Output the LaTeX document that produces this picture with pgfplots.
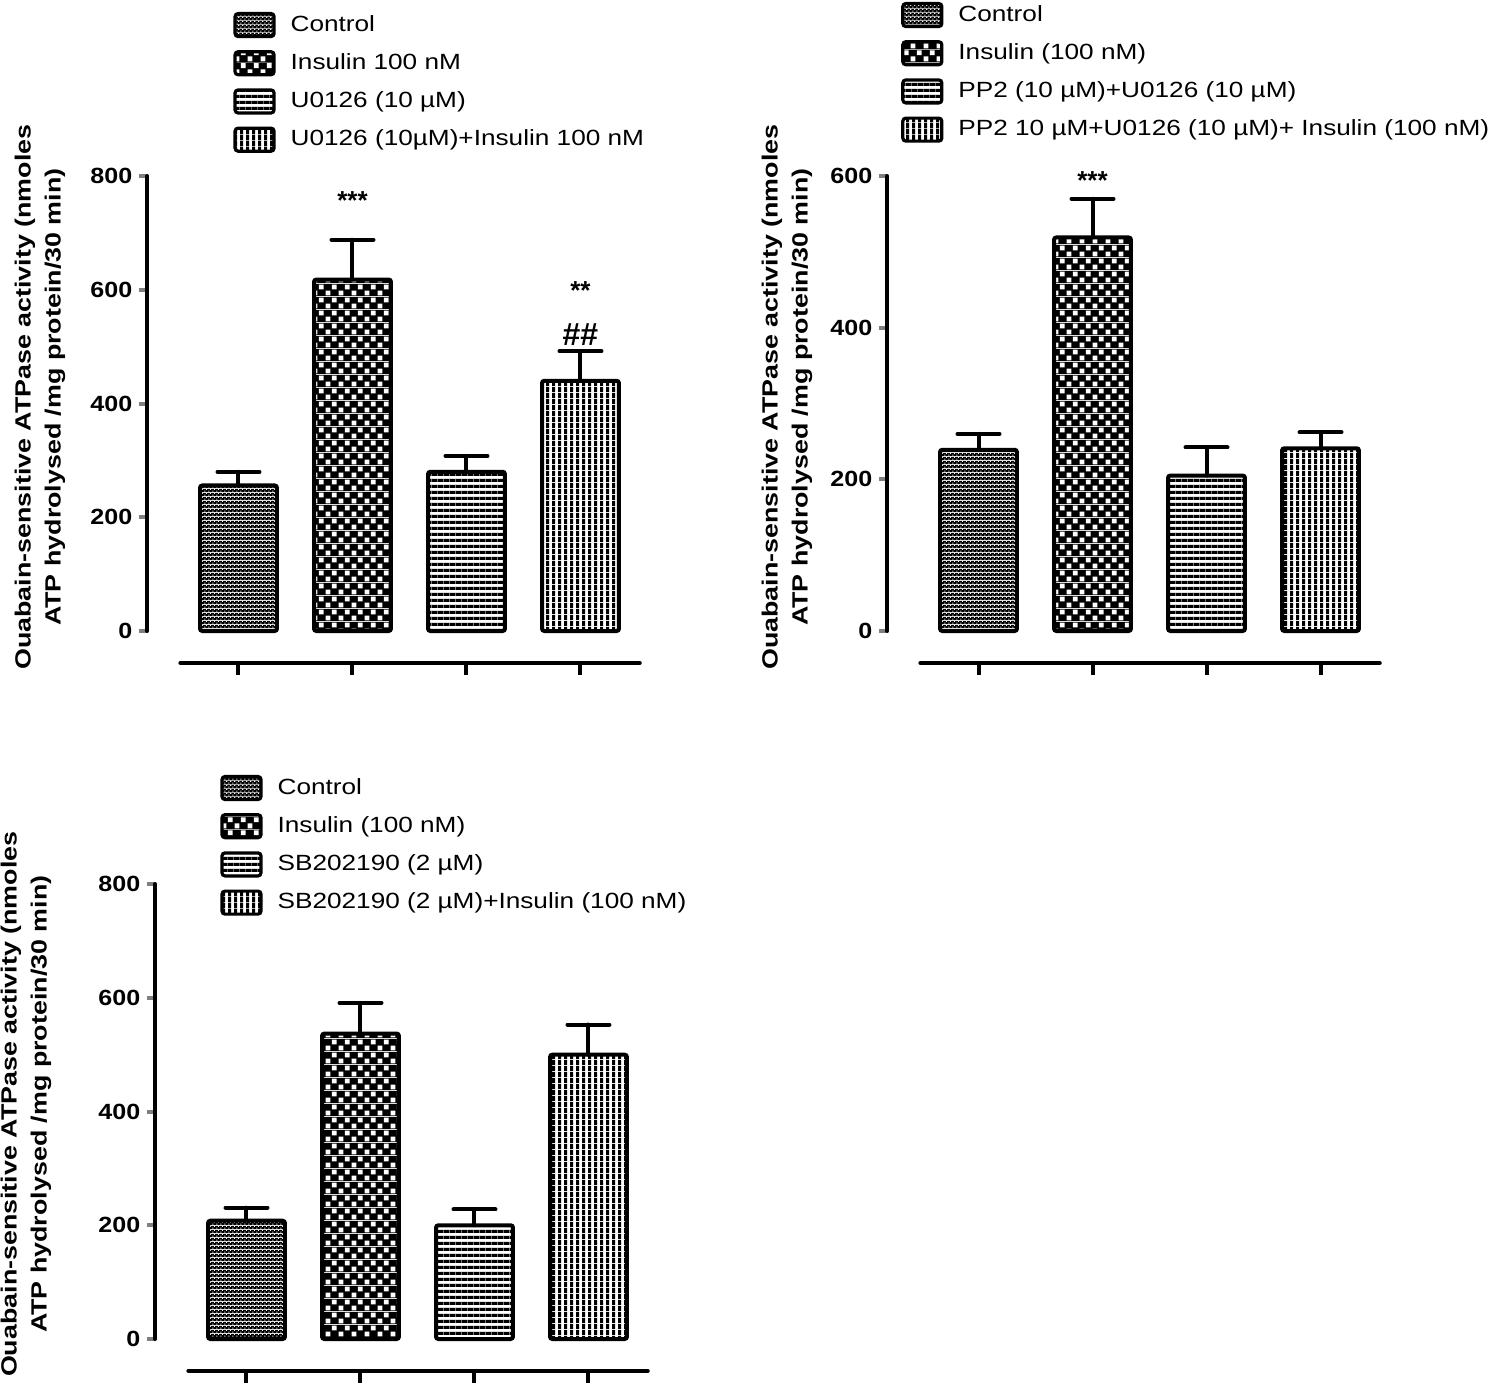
\documentclass[border=0pt]{standalone}
\usepackage{fontspec}
\setmainfont{Liberation Sans}
\newfontfamily\legfont[FakeStretch=1.19]{Liberation Sans}
\newfontfamily\labfont[FakeStretch=1.22]{Liberation Sans}
\newfontfamily\tickfont[FakeStretch=1.14]{Liberation Sans}
\usepackage{pgfplots}
\pgfplotsset{compat=1.18}
\usetikzlibrary{patterns}

% fine dotted grey (Control)
\pgfdeclarepatterninherentlycolored{ctrlpat}{\pgfpointorigin}{\pgfqpoint{2pt}{2pt}}{\pgfqpoint{2pt}{2pt}}{%
  \pgfsetfillcolor{black}\pgfpathrectangle{\pgfpointorigin}{\pgfqpoint{2pt}{2pt}}\pgfusepath{fill}%
  \pgfsetfillcolor{white}%
  \pgfpathrectangle{\pgfqpoint{0.25pt}{0.25pt}}{\pgfqpoint{0.6pt}{0.6pt}}%
  \pgfpathrectangle{\pgfqpoint{1.25pt}{1.25pt}}{\pgfqpoint{0.6pt}{0.6pt}}%
  \pgfusepath{fill}}
% coarse checkerboard (Insulin)
\pgfdeclarepatterninherentlycolored{inspat}{\pgfpointorigin}{\pgfqpoint{6.5pt}{6.5pt}}{\pgfqpoint{6.5pt}{6.5pt}}{%
  \pgfsetfillcolor{black}\pgfpathrectangle{\pgfpointorigin}{\pgfqpoint{6.5pt}{6.5pt}}\pgfusepath{fill}%
  \pgfsetfillcolor{white}%
  \pgfpathrectangle{\pgfqpoint{0.35pt}{0.35pt}}{\pgfqpoint{2.55pt}{2.55pt}}%
  \pgfpathrectangle{\pgfqpoint{3.6pt}{3.6pt}}{\pgfqpoint{2.55pt}{2.55pt}}%
  \pgfusepath{fill}}
% horizontal stripes
\pgfdeclarepatterninherentlycolored{hpat}{\pgfpointorigin}{\pgfqpoint{3pt}{3pt}}{\pgfqpoint{3pt}{3pt}}{%
  \pgfsetfillcolor{white}\pgfpathrectangle{\pgfpointorigin}{\pgfqpoint{3pt}{3pt}}\pgfusepath{fill}%
  \pgfsetfillcolor{black}\pgfpathrectangle{\pgfpointorigin}{\pgfqpoint{3pt}{1.8pt}}\pgfusepath{fill}}
% vertical stripes
\pgfdeclarepatterninherentlycolored{vpat}{\pgfpointorigin}{\pgfqpoint{3pt}{3pt}}{\pgfqpoint{3pt}{3pt}}{%
  \pgfsetfillcolor{white}\pgfpathrectangle{\pgfpointorigin}{\pgfqpoint{3pt}{3pt}}\pgfusepath{fill}%
  \pgfsetfillcolor{black}\pgfpathrectangle{\pgfpointorigin}{\pgfqpoint{1.8pt}{3pt}}\pgfusepath{fill}}

\pgfplotsset{
  panel/.style={
    scale only axis, width=250.8pt, height=227.5pt,
    xmin=-0.8, xmax=3.6, ymin=0,
    axis x line=none, axis y line*=left,
    y axis line style={line width=2pt, line cap=round},
    ytick style={line width=2pt},
    tick align=outside, major tick length=4pt,
    /pgf/number format/assume math mode=true,
    yticklabel style={font=\tickfont\bfseries\fontsize{11}{11}\selectfont},
    ybar, bar width=0.675, bar shift=0pt,
    clip=false,
    every axis plot/.append style={draw=black, line width=2pt, rounded corners=1.2pt},
    error bars/y dir=plus, error bars/y explicit,
    error bars/error mark=|,
    error bars/error bar style={line width=2pt, line cap=round, rounded corners=0pt},
    error bars/error mark options={line width=2pt, mark size=10.5pt, line cap=round},
    ylabel={Ouabain-sensitive ATPase activity (nmoles\\ATP hydrolysed /mg protein/30 min)},
    ylabel style={align=center, font=\labfont\bfseries\fontsize{11}{15}\selectfont, anchor=center},
    legend image code/.code={\draw[#1, line width=1.6pt, rounded corners=1.5pt] (0pt,-5.75pt) rectangle (19.5pt,5.75pt);},
    legend cell align=left,
    legend style={draw=none, fill=none, inner sep=0pt, anchor=north west,
      font=\legfont\fontsize{11}{13}\selectfont,
      nodes={inner sep=0pt, text height=8.5pt, text depth=2.5pt},
      column sep=7.5pt, row sep=6pt},
  }
}

\begin{document}
\begin{tikzpicture}
\useasboundingbox (0,0) rectangle (750pt,-694pt);

% ---------- Panel 1 ----------
\begin{axis}[panel, at={(73.65pt,-315.5pt)}, anchor=south west,
  ymax=800, ytick={0,200,400,600,800},
  ylabel style={at={(axis description cs:-0.214,0.514)}},
  legend style={at={(axis description cs:0.171,1.3615)}}]
\addplot[pattern=ctrlpat] coordinates {(0,256) +- (0,24)};
\addplot[pattern=inspat] coordinates {(1,618) +- (0,70)};
\addplot[pattern=hpat] coordinates {(2,280) +- (0,28)};
\addplot[pattern=vpat] coordinates {(3,440) +- (0,52)};
\legend{Control, Insulin 100 nM, U0126 (10 µM), U0126 (10µM)+Insulin 100 nM}
\node[font=\bfseries\fontsize{13}{13}\selectfont] at (axis cs:1,756) {***};
\node[font=\bfseries\fontsize{13}{13}\selectfont] at (axis cs:3,598) {**};
\node[font=\bfseries\fontsize{16}{16}\selectfont] at (axis cs:3,521) {\#\#};
\draw[line width=2pt, line cap=round] (axis cs:-0.51,-56) -- (axis cs:3.52,-56);
\draw[line width=2pt] (axis cs:0,-56) -- (axis cs:0,-77) (axis cs:1,-56) -- (axis cs:1,-77)
  (axis cs:2,-56) -- (axis cs:2,-77) (axis cs:3,-56) -- (axis cs:3,-77);
\end{axis}

% ---------- Panel 2 ----------
\begin{axis}[panel, at={(443.65pt,-315.5pt)}, anchor=south west,
  ymax=600, ytick={0,200,400,600},
  ylabel style={at={(axis description cs:-0.2,0.514)}},
  legend style={at={(axis description cs:0.027,1.3835)}}]
\addplot[pattern=ctrlpat] coordinates {(0,239) +- (0,21)};
\addplot[pattern=inspat] coordinates {(1,519) +- (0,51)};
\addplot[pattern=hpat] coordinates {(2,205) +- (0,37)};
\addplot[pattern=vpat] coordinates {(3,241) +- (0,21)};
\legend{Control, Insulin (100 nM), PP2 (10 µM)+U0126 (10 µM), PP2 10 µM+U0126 (10 µM)+ Insulin (100 nM)}
\node[font=\bfseries\fontsize{13}{13}\selectfont] at (axis cs:1,594) {***};
\draw[line width=2pt, line cap=round] (axis cs:-0.51,-42.2) -- (axis cs:3.52,-42.2);
\draw[line width=2pt] (axis cs:0,-42.2) -- (axis cs:0,-58) (axis cs:1,-42.2) -- (axis cs:1,-58)
  (axis cs:2,-42.2) -- (axis cs:2,-58) (axis cs:3,-42.2) -- (axis cs:3,-58);
\end{axis}

% ---------- Panel 3 ----------
\begin{axis}[panel, at={(77.65pt,-669.5pt)}, anchor=south west,
  ymax=800, ytick={0,200,400,600,800},
  ylabel style={at={(axis description cs:-0.258,0.516)}},
  legend style={at={(axis description cs:0.129,1.2407)}}]
\addplot[pattern=ctrlpat] coordinates {(0,208) +- (0,23)};
\addplot[pattern=inspat] coordinates {(1,537) +- (0,54)};
\addplot[pattern=hpat] coordinates {(2,200) +- (0,28)};
\addplot[pattern=vpat] coordinates {(3,500) +- (0,53)};
\legend{Control, Insulin (100 nM), SB202190 (2 µM), SB202190 (2 µM)+Insulin (100 nM)}
\draw[line width=2pt, line cap=round] (axis cs:-0.51,-56) -- (axis cs:3.52,-56);
\draw[line width=2pt] (axis cs:0,-56) -- (axis cs:0,-77) (axis cs:1,-56) -- (axis cs:1,-77)
  (axis cs:2,-56) -- (axis cs:2,-77) (axis cs:3,-56) -- (axis cs:3,-77);
\end{axis}
\end{tikzpicture}
\end{document}
